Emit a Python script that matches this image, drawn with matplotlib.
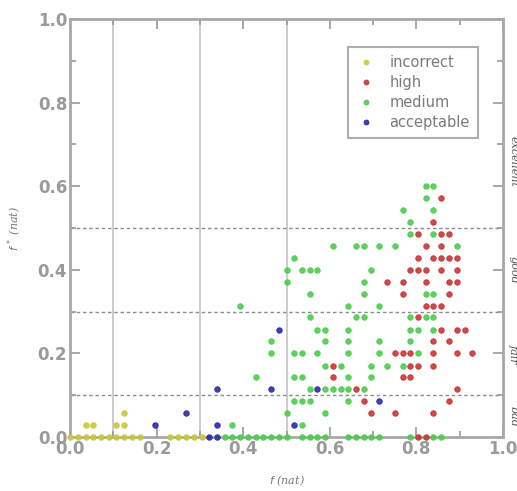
import matplotlib
matplotlib.use("Agg")
import matplotlib.pyplot as plt
from matplotlib.ticker import MultipleLocator

# ---------------------------------------------------------------------------
# data (f on x, f* on y)
# ---------------------------------------------------------------------------
incorrect_x = [0.125,
               0.036, 0.054, 0.107, 0.125,
               0.000, 0.018, 0.036, 0.054, 0.071, 0.089, 0.107, 0.125, 0.143, 0.161,
               0.232, 0.250, 0.268, 0.286, 0.304]
incorrect_y = [0.057,
               0.029, 0.029, 0.029, 0.029,
               0.0, 0.0, 0.0, 0.0, 0.0, 0.0, 0.0, 0.0, 0.0, 0.0,
               0.0, 0.0, 0.0, 0.0, 0.0]

high_x = [0.857,
          0.839,
          0.804, 0.857, 0.875,
          0.821, 0.857,
          0.804, 0.839, 0.857, 0.875, 0.893,
          0.786, 0.804, 0.821, 0.857, 0.893,
          0.732, 0.768, 0.821, 0.875, 0.893,
          0.768, 0.875,
          0.821, 0.839, 0.857,
          0.804,
          0.857, 0.893, 0.911,
          0.839, 0.875,
          0.750, 0.768, 0.786, 0.839, 0.893, 0.929,
          0.607, 0.786, 0.804, 0.839,
          0.607, 0.768, 0.786,
          0.661, 0.893,
          0.679, 0.875,
          0.696, 0.750, 0.839,
          0.804, 0.821]
high_y = [0.571,
          0.514,
          0.486, 0.486, 0.486,
          0.457, 0.457,
          0.429, 0.429, 0.429, 0.429, 0.429,
          0.400, 0.400, 0.400, 0.400, 0.400,
          0.371, 0.371, 0.371, 0.371, 0.371,
          0.343, 0.343,
          0.314, 0.314, 0.314,
          0.286,
          0.257, 0.257, 0.257,
          0.229, 0.229,
          0.200, 0.200, 0.200, 0.200, 0.200, 0.200,
          0.171, 0.171, 0.171, 0.171,
          0.143, 0.143, 0.143,
          0.114, 0.114,
          0.086, 0.086,
          0.057, 0.057, 0.057,
          0.0, 0.0]

medium_x = [0.821, 0.839,
            0.821,
            0.768, 0.839,
            0.786,
            0.786, 0.839,
            0.607, 0.661, 0.679, 0.714, 0.750, 0.893,
            0.518,
            0.500, 0.536, 0.554, 0.571, 0.696,
            0.500, 0.679,
            0.554, 0.679, 0.821, 0.839,
            0.393, 0.643, 0.714,
            0.554, 0.661, 0.679, 0.786, 0.821, 0.839,
            0.571, 0.589, 0.643, 0.786, 0.804, 0.839,
            0.464, 0.589, 0.643, 0.714, 0.786,
            0.464, 0.518, 0.536, 0.571, 0.643, 0.714, 0.804,
            0.589, 0.625, 0.696, 0.732, 0.768,
            0.429, 0.518, 0.536, 0.643, 0.696,
            0.554, 0.589, 0.607, 0.625, 0.643, 0.679,
            0.518, 0.536, 0.554, 0.643,
            0.500, 0.589,
            0.375, 0.536,
            0.357, 0.375, 0.393, 0.411, 0.429, 0.446, 0.464, 0.482, 0.500,
            0.536, 0.554, 0.571, 0.589,
            0.643, 0.661, 0.679, 0.696, 0.714,
            0.786, 0.839, 0.857]
medium_y = [0.600, 0.600,
            0.571,
            0.543, 0.543,
            0.514,
            0.486, 0.486,
            0.457, 0.457, 0.457, 0.457, 0.457, 0.457,
            0.429,
            0.400, 0.400, 0.400, 0.400, 0.400,
            0.371, 0.371,
            0.343, 0.343, 0.343, 0.343,
            0.314, 0.314, 0.314,
            0.286, 0.286, 0.286, 0.286, 0.286, 0.286,
            0.257, 0.257, 0.257, 0.257, 0.257, 0.257,
            0.229, 0.229, 0.229, 0.229, 0.229,
            0.200, 0.200, 0.200, 0.200, 0.200, 0.200, 0.200,
            0.171, 0.171, 0.171, 0.171, 0.171,
            0.143, 0.143, 0.143, 0.143, 0.143,
            0.114, 0.114, 0.114, 0.114, 0.114, 0.114,
            0.086, 0.086, 0.086, 0.086,
            0.057, 0.057,
            0.029, 0.029,
            0.0, 0.0, 0.0, 0.0, 0.0, 0.0, 0.0, 0.0, 0.0,
            0.0, 0.0, 0.0, 0.0,
            0.0, 0.0, 0.0, 0.0, 0.0,
            0.0, 0.0, 0.0]

acceptable_x = [0.482, 0.339, 0.464, 0.571, 0.714, 0.268, 0.196, 0.339, 0.518, 0.321, 0.339]
acceptable_y = [0.257, 0.114, 0.114, 0.114, 0.086, 0.057, 0.029, 0.029, 0.029, 0.0, 0.0]

categories = ["incorrect", "high", "medium", "acceptable"]
colors = ["#c8c83a", "#c83434", "#4ccc4c", "#2a2aa8"]

bands = ["bad", "fair", "good", "excellent"]
band_pos = [0.05, 0.2, 0.4, 0.66]

# ---------------------------------------------------------------------------
# figure
# ---------------------------------------------------------------------------
fig = plt.figure(figsize=(5.17, 4.91), dpi=100)
ax = fig.add_axes([0.1354, 0.110, 0.8376, 0.8513])

grey = "#9a9a9a"
for xv in (0.1, 0.3, 0.5):
    ax.axvline(xv, color="#c4c4c4", lw=1.2, zorder=1)
for yv in (0.1, 0.3, 0.5):
    ax.axhline(yv, color="#8c8c8c", lw=1.0, ls=(0, (2.5, 2)), zorder=1)

series = [(incorrect_x, incorrect_y), (high_x, high_y),
          (medium_x, medium_y), (acceptable_x, acceptable_y)]
for (xs, ys), name, col in zip(series, categories, colors):
    ax.plot(xs, ys, ls="none", marker="o", ms=4.0, mfc=col, mec=col,
            mew=0.6, alpha=0.9, label=name, clip_on=False, zorder=3)

ax.set_xlim(0, 1)
ax.set_ylim(0, 1)
ax.xaxis.set_major_locator(MultipleLocator(0.2))
ax.yaxis.set_major_locator(MultipleLocator(0.2))
ax.xaxis.set_minor_locator(MultipleLocator(0.1))
ax.yaxis.set_minor_locator(MultipleLocator(0.1))
ax.tick_params(which="both", direction="in", top=True, right=True,
               color=grey, width=1.2)
ax.tick_params(which="major", length=7, labelsize=12, labelcolor=grey, pad=2)
ax.tick_params(which="minor", length=4)
for lab in ax.get_xticklabels() + ax.get_yticklabels():
    lab.set_fontweight("bold")
for sp in ax.spines.values():
    sp.set_color("#a8a8a8")
    sp.set_linewidth(2)

ax.set_xlabel(r"$f$ (nat)", fontsize=8, color="#777777", style="italic",
              family="serif", labelpad=11)
ax.set_ylabel(r"$f^{\,*}$ (nat)", fontsize=8, color="#777777", style="italic",
              family="serif", labelpad=10)

for name, yv in zip(bands, band_pos):
    ax.text(1.012, yv, name, transform=ax.transAxes, rotation=270,
            ha="left", va="center", fontsize=8, color="#555555",
            style="italic", family="serif", clip_on=False)

leg = ax.legend(loc="upper right", bbox_to_anchor=(0.942, 0.933),
                borderaxespad=0, fontsize=10.5, handletextpad=0.9,
                labelspacing=0.35, borderpad=0.55, frameon=True,
                fancybox=False, handlelength=1.4, markerscale=0.9)
leg.get_frame().set_edgecolor("#9a9a9a")
leg.get_frame().set_linewidth(1.5)
for t in leg.get_texts():
    t.set_color("#7a7a7a")

fig.savefig("out.png", dpi=100)
